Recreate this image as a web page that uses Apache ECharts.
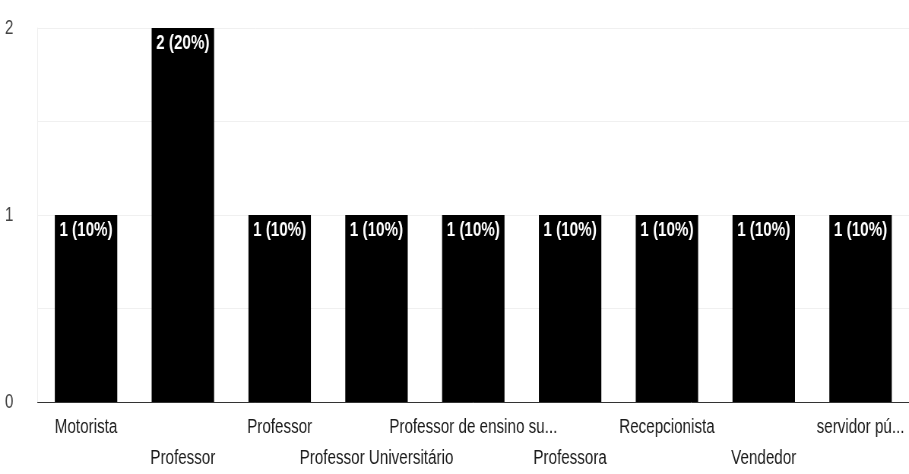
<!DOCTYPE html>
<html>
<head>
<meta charset="utf-8">
<script src="https://cdn.jsdelivr.net/npm/echarts@6/dist/echarts.min.js"></script>
<style>
  html, body { margin: 0; padding: 0; background: #fff; overflow: hidden; }
  /* o gráfico original aparece comprimido na horizontal */
  #chart { width: 1196px; height: 474px; transform: scaleX(0.76); transform-origin: 0 0; }
</style>
</head>
<body>
<div id="chart"></div>
<script>
// ocupações e respostas
const categories = ['Motorista', 'Professor', 'Professor', 'Professor Universitário',
  'Professor de ensino su...', 'Professora', 'Recepcionista', 'Vendedor', 'servidor pú...'];
const counts = [1, 2, 1, 1, 1, 1, 1, 1, 1];
const percents = [10, 20, 10, 10, 10, 10, 10, 10, 10];
const yTicks = [0, 1, 2];

const FONT = "'Liberation Sans', Arial, sans-serif";

var myChart = echarts.init(document.getElementById('chart'));
var option = {
  animation: false,
  textStyle: { fontFamily: FONT },
  grid: { left: 49.5, right: -11, top: 28, bottom: 70 },
  xAxis: {
    type: 'category',
    data: categories,
    axisTick: { show: false },
    axisLine: { lineStyle: { color: '#333', width: 1 } },
    axisLabel: {
      interval: 0,
      color: '#1a1a1a',
      fontSize: 20,
      fontFamily: FONT,
      lineHeight: 31,
      margin: 10,
      formatter: function (v, i) { return i % 2 === 1 ? '\n' + v : v; }
    }
  },
  yAxis: {
    type: 'value',
    min: 0,
    max: 2,
    interval: 0.5,
    axisLine: { show: true, lineStyle: { color: '#eeeeee' } },
    axisTick: { show: false },
    splitLine: { lineStyle: { color: '#f0f0f0' } },
    axisLabel: {
      color: '#444',
      fontSize: 20,
      fontFamily: FONT,
      margin: 32,
      formatter: function (v) { return yTicks.indexOf(v) >= 0 ? String(v) : ''; }
    }
  },
  series: [{
    type: 'bar',
    data: counts,
    barWidth: '64.5%',
    itemStyle: { color: '#000' },
    label: {
      show: true,
      position: 'insideTop',
      distance: 5,
      color: '#fff',
      fontSize: 20,
      fontWeight: 'bold',
      fontFamily: FONT,
      formatter: function (p) { return p.value + ' (' + percents[p.dataIndex] + '%)'; }
    }
  }]
};
option && myChart.setOption(option);
</script>
</body>
</html>
